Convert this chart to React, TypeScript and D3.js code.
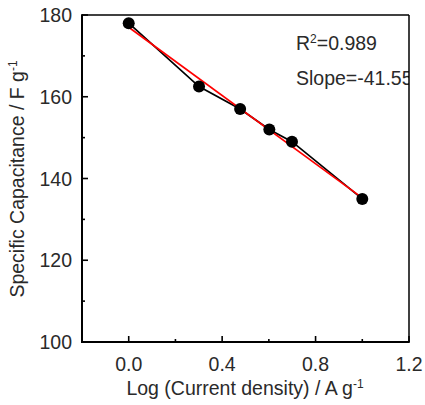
import React from "react";
import * as d3 from "d3";

const logCurrent = [0, 0.301, 0.477, 0.602, 0.699, 1.0];
const capacitance = [178, 162.5, 157, 152, 149, 135];
const xTicks = [0, 0.4, 0.8, 1.2];
const xMinor = [0.2, 0.6, 1.0];
const yTicks = [100, 120, 140, 160, 180];
const yMinor = [110, 130, 150, 170];
const r2Text = "0.989";
const slopeText = "Slope=-41.55";

const W = 425, H = 405;
const L = 82, R = 409, T = 15, B = 342;
const FONT = "'Liberation Sans', Arial, sans-serif";
const FS = 19.5;
const TXT = "#2a2a2a";

export default function App() {
  const x = d3.scaleLinear().domain([-0.2, 1.2]).range([L, R]);
  const y = d3.scaleLinear().domain([100, 180]).range([B, T]);
  const pts = logCurrent.map((v, i) => [v, capacitance[i]] as [number, number]);
  const line = d3.line<[number, number]>().x(d => x(d[0])).y(d => y(d[1]));
  // least squares fit
  const mx = d3.mean(logCurrent)!;
  const my = d3.mean(capacitance)!;
  let num = 0, den = 0;
  pts.forEach(([a, b]) => { num += (a - mx) * (b - my); den += (a - mx) ** 2; });
  const slope = num / den;
  const icpt = my - slope * mx;
  const x0 = d3.min(logCurrent)!, x1 = d3.max(logCurrent)!;
  const fit: [number, number][] = [[x0, icpt + slope * x0], [x1, icpt + slope * x1]];

  return (
    <svg width={W} height={H} style={{ position: "absolute", left: 0, top: 0 }}>
      <rect width={W} height={H} fill="#fff" />
      <defs>
        <clipPath id="plot"><rect x={L} y={T} width={R - L} height={B - T} /></clipPath>
      </defs>
      <path d={line(pts)!} fill="none" stroke="#000" strokeWidth={1.7} />
      <path d={line(fit)!} fill="none" stroke="#ff0000" strokeWidth={1.7} />
      {pts.map((p, i) => (
        <circle key={i} cx={x(p[0])} cy={y(p[1])} r={6} fill="#000" />
      ))}
      <g clipPath="url(#plot)" fontFamily={FONT} fontSize={FS} fill={TXT}>
        <text x={296} y={50}>R<tspan dy={-7} fontSize={12}>2</tspan><tspan dy={7}>={r2Text}</tspan></text>
        <text x={296} y={85}>{slopeText}</text>
      </g>
      {/* ticks */}
      {xTicks.map(t => <line key={"xt" + t} x1={x(t)} x2={x(t)} y1={B} y2={B - 6} stroke="#000" strokeWidth={1.6} />)}
      {xMinor.map(t => <line key={"xm" + t} x1={x(t)} x2={x(t)} y1={B} y2={B - 3} stroke="#000" strokeWidth={1.6} />)}
      {yTicks.map(t => <line key={"yt" + t} x1={L} x2={L + 6} y1={y(t)} y2={y(t)} stroke="#000" strokeWidth={1.6} />)}
      {yMinor.map(t => <line key={"ym" + t} x1={L} x2={L + 3} y1={y(t)} y2={y(t)} stroke="#000" strokeWidth={1.6} />)}
      {/* frame */}
      <line x1={L} x2={R} y1={T} y2={T} stroke="#000" strokeWidth={1.5} />
      <line x1={R} x2={R} y1={T} y2={B} stroke="#000" strokeWidth={1.5} />
      <line x1={L} x2={L} y1={T - 0.75} y2={B + 1} stroke="#000" strokeWidth={2} />
      <line x1={L - 1} x2={R + 0.75} y1={B} y2={B} stroke="#000" strokeWidth={2} />
      {/* tick labels */}
      <g fontFamily={FONT} fontSize={FS} fill={TXT}>
        {xTicks.map(t => (
          <text key={"xl" + t} x={x(t)} y={371} textAnchor="middle">{d3.format(".1f")(t)}</text>
        ))}
        {yTicks.map(t => (
          <text key={"yl" + t} x={72} y={y(t)} textAnchor="end" dominantBaseline="central">{t}</text>
        ))}
        <text x={245} y={395} textAnchor="middle">Log (Current density) / A g<tspan dy={-7} fontSize={12}>-1</tspan></text>
        <text transform={`translate(24,179) rotate(-90)`} textAnchor="middle">Specific Capacitance / F g<tspan dy={-7} fontSize={12}>-1</tspan></text>
      </g>
    </svg>
  );
}
